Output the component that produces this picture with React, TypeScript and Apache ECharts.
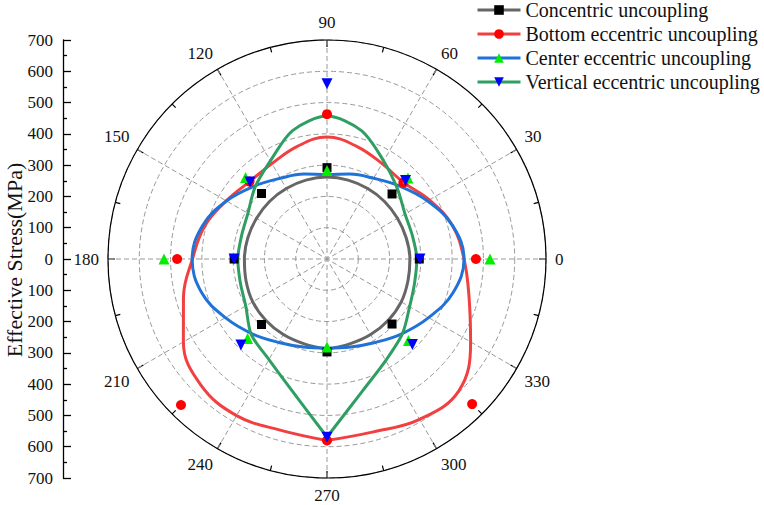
import React, { useEffect, useRef } from "react";
import * as echarts from "echarts";

const FONT = "'Liberation Serif', 'Times New Roman', serif";

// Curve sampling angles (degrees), starting and ending at the bottom cusp
const curveAngles = [270, 285, 300, 315, 330, 345, 0, 15, 30, 45, 60, 75, 90, 105, 120, 135, 150, 165, 180, 195, 210, 225, 240, 255, 270];
const concentricCurve = [288, 281, 279, 277, 274, 268, 265, 262, 260, 260, 260, 261, 262, 261, 260, 260, 260, 262, 264, 268, 274, 277, 279, 281, 288];
const bottomCurve = [580, 572, 592, 596, 530, 470, 438, 415, 378, 346, 352, 372, 390, 372, 352, 350, 372, 405, 430, 475, 530, 570, 578, 567, 580];
const centerCurve = [285, 291, 308, 338, 375, 417, 438, 415, 371, 329, 298, 281, 270, 281, 298, 329, 371, 412, 431, 415, 375, 338, 308, 291, 285];
const verticalCurve = [569, 437, 375, 340, 305, 290, 287, 283, 288, 318, 362, 425, 457, 425, 362, 325, 292, 283, 285, 287, 300, 342, 371, 435, 569];

// Measured points
const pointAngles = [0, 45, 90, 135, 180, 225, 270, 315];
const concentricPts = [295, 294, 292, 296, 297, 296, 297, 294];
const bottomPts = [476, 345, 463, 350, 479, 660, 580, 656];
const centerPts = [521, 366, 283, 368, 521, 359, 281, 368];
const verticalPts = [297, 355, 560, 348, 297, 389, 570, 386];

const seriesNames = [
  "Concentric uncoupling",
  "Bottom eccentric uncoupling",
  "Center eccentric uncoupling",
  "Vertical eccentric uncoupling",
];
const curveColors = ["#666666", "#f24040", "#1f72d8", "#2e9e62"];
const markerColors = ["#000000", "#ff0000", "#00ee00", "#0000ff"];
const markerSymbols = ["rect", "circle", "triangle", "triangle"];
const markerRotates = [0, 0, 0, 180];
const markerSizes = [9, 10, 11, 11];
const curveSmooth = [0.4, 0.4, 0.4, 0.3];

const radiusTicks = [700, 600, 500, 400, 300, 200, 100, 0];

export default function App() {
  const ref = useRef<HTMLDivElement>(null);
  useEffect(() => {
    if (!ref.current) return;
    const chart = echarts.init(ref.current, null, { renderer: "svg" });
    const curves = [concentricCurve, bottomCurve, centerCurve, verticalCurve];
    const pts = [concentricPts, bottomPts, centerPts, verticalPts];
    const dashed = { color: "#999999", width: 1, type: [5, 3] as any };

    const lineSeries = curves.map((c, i) => ({
      type: "line",
      name: seriesNames[i],
      coordinateSystem: "polar",
      data: c.map((r, k) => [r, curveAngles[k]]),
      smooth: curveSmooth[i],
      showSymbol: false,
      symbol: markerSymbols[i],
      symbolRotate: markerRotates[i],
      symbolSize: markerSizes[i],
      itemStyle: { color: markerColors[i] },
      lineStyle: { color: curveColors[i], width: 3 },
      z: 2,
      silent: true,
    }));
    const scatterSeries = pts.map((p, i) => ({
      type: "scatter",
      name: seriesNames[i] + " points",
      coordinateSystem: "polar",
      data: p.map((r, k) => [r, pointAngles[k]]),
      symbol: markerSymbols[i],
      symbolRotate: markerRotates[i],
      symbolSize: markerSizes[i],
      itemStyle: { color: markerColors[i], opacity: 1 },
      z: 3 + i,
    }));

    chart.setOption({
      animation: false,
      backgroundColor: "#ffffff",
      textStyle: { fontFamily: FONT },
      polar: { center: [327, 259], radius: 219 },
      angleAxis: {
        type: "value",
        min: 0,
        max: 360,
        interval: 30,
        startAngle: 0,
        clockwise: false,
        axisLine: { show: true, lineStyle: { color: "#000", width: 1.2 } },
        axisTick: { show: true, inside: true, length: 7, lineStyle: { color: "#000", width: 1.2 } },
        minorTick: { show: true, splitNumber: 2, length: 5, lineStyle: { color: "#000", width: 1.2 } },
        axisLabel: { color: "#111", fontSize: 17, fontFamily: FONT, margin: 9 },
        splitLine: { show: true, lineStyle: dashed },
      },
      radiusAxis: {
        type: "value",
        min: 0,
        max: 700,
        interval: 100,
        axisLine: { show: false },
        axisTick: { show: false },
        axisLabel: { show: false },
        splitLine: { show: true, lineStyle: dashed },
      },
      grid: { left: 63, top: 40, width: 1, height: 438, containLabel: false },
      xAxis: { type: "value", show: false, min: 0, max: 1 },
      yAxis: {
        type: "value",
        min: -700,
        max: 700,
        interval: 100,
        axisLine: { show: true, lineStyle: { color: "#000", width: 1.3 } },
        axisTick: { show: true, inside: true, length: 8, lineStyle: { color: "#000", width: 1.3 } },
        minorTick: { show: true, splitNumber: 2, length: 4, lineStyle: { color: "#000", width: 1.3 } },
        axisLabel: {
          color: "#111",
          fontSize: 17,
          fontFamily: FONT,
          margin: 10,
          formatter: (v: number) => String(radiusTicks[radiusTicks.indexOf(Math.abs(v))] ?? Math.abs(v)),
        },
        splitLine: { show: false },
      },
      legend: {
        orient: "vertical",
        left: 476,
        top: 0,
        padding: 0,
        itemGap: 4,
        itemWidth: 43,
        itemHeight: 12,
        selectedMode: false,
        textStyle: { fontSize: 20, color: "#111", fontFamily: FONT },
        data: seriesNames.map((n, i) => ({
          name: n,
          itemStyle: { color: markerColors[i] },
          lineStyle: { color: curveColors[i], width: 3 },
        })),
      },
      graphic: [
        {
          type: "text",
          x: 14,
          y: 260,
          rotation: Math.PI / 2,
          style: {
            text: "Effective Stress(MPa)",
            fontSize: 22,
            fontFamily: FONT,
            fill: "#111",
            align: "center",
            verticalAlign: "middle",
          },
        },
      ],
      series: [...lineSeries, ...scatterSeries],
    });
    return () => chart.dispose();
  }, []);
  return (
    <div
      ref={ref}
      style={{ position: "fixed", left: 0, top: 0, width: 764, height: 505, background: "#fff" }}
    />
  );
}
